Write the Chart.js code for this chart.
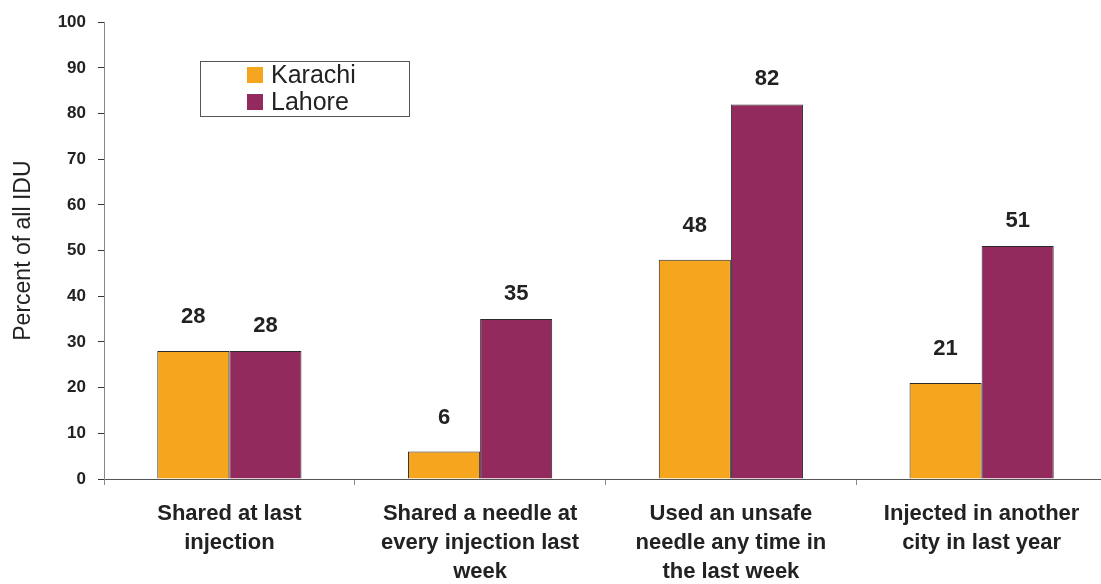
<!DOCTYPE html>
<html>
<head>
<meta charset="utf-8">
<script src="https://cdn.jsdelivr.net/npm/chart.js@4"></script>
<style>
  html, body { margin: 0; padding: 0; background: #fff; overflow: hidden; }
  #wrap { width: 1110px; height: 584px; }
</style>
</head>
<body>
<div id="wrap"><canvas id="graph" width="1110" height="584"></canvas></div>
<script>
const categories = [
    ["Shared at last", "injection"],
    ["Shared a needle at", "every injection last", "week"],
    ["Used an unsafe", "needle any time in", "the last week"],
    ["Injected in another", "city in last year"]
];
const karachi = [28, 6, 48, 21];
const lahore = [28, 35, 82, 51];
const seriesNames = ["Karachi", "Lahore"];
const yTicks = [0, 10, 20, 30, 40, 50, 60, 70, 80, 90, 100];

const orange = "#F6A51E";
const purple = "#922A5E";
const font = "'Liberation Sans', Arial, sans-serif";

// values above bars
const valueLabels = {
    id: "valueLabels",
    afterDatasetsDraw(chart) {
        const ctx = chart.ctx;
        const lift = [34, 25];
        ctx.save();
        ctx.font = "bold 22px " + font;
        ctx.fillStyle = "#222";
        ctx.textAlign = "center";
        ctx.textBaseline = "middle";
        chart.data.datasets.forEach((ds, i) => {
            chart.getDatasetMeta(i).data.forEach((bar, j) => {
                ctx.fillText(ds.data[j], bar.x, bar.y - lift[i]);
            });
        });
        ctx.restore();
    }
};

// boxed legend inside plot
const boxLegend = {
    id: "boxLegend",
    afterDraw(chart) {
        const ctx = chart.ctx;
        ctx.save();
        ctx.strokeStyle = "#555";
        ctx.lineWidth = 1;
        ctx.strokeRect(200.5, 61.5, 209, 55);
        ctx.font = "25px " + font;
        ctx.textBaseline = "middle";
        chart.data.datasets.forEach((ds, i) => {
            const y = 75 + i * 27;
            ctx.fillStyle = ds.backgroundColor;
            ctx.fillRect(247, y - 8, 16, 16);
            ctx.fillStyle = "#222";
            ctx.fillText(ds.label, 271, y + 1);
        });
        ctx.restore();
    }
};

new Chart(document.getElementById("graph").getContext("2d"), {
    type: "bar",
    data: {
        labels: categories,
        datasets: [
            { label: seriesNames[0], data: karachi, backgroundColor: orange, borderColor: "#2a2a2a", borderWidth: 1 },
            { label: seriesNames[1], data: lahore, backgroundColor: purple, borderColor: "#2a2a2a", borderWidth: 1 }
        ]
    },
    options: {
        responsive: false,
        animation: false,
        layout: { padding: { top: 17, right: 3, left: 0, bottom: 0 } },
        datasets: { bar: { categoryPercentage: 0.575, barPercentage: 1.0 } },
        plugins: { legend: { display: false }, tooltip: { enabled: false } },
        scales: {
            x: {
                grid: { offset: true, drawOnChartArea: false, drawTicks: true, tickLength: 6, tickColor: "#888" },
                border: { color: "#555", width: 1 },
                ticks: {
                    color: "#222",
                    padding: 14,
                    maxRotation: 0,
                    autoSkip: false,
                    font: { family: font, size: 22, weight: "bold", lineHeight: 1.32 }
                },
                afterFit(scale) { scale.height = 105; }
            },
            y: {
                min: 0,
                max: 100,
                afterBuildTicks(scale) { scale.ticks = yTicks.map(v => ({ value: v })); },
                grid: { drawOnChartArea: false, drawTicks: true, tickLength: 6, tickColor: "#333" },
                border: { color: "#888", width: 1 },
                ticks: {
                    color: "#222",
                    padding: 12,
                    font: { family: font, size: 17, weight: "bold" }
                },
                title: {
                    display: true,
                    text: "Percent of all IDU",
                    color: "#222",
                    padding: { top: 10, bottom: 0 },
                    font: { family: font, size: 23 }
                },
                afterFit(scale) { scale.width = 104; }
            }
        }
    },
    plugins: [valueLabels, boxLegend]
});
</script>
</body>
</html>
